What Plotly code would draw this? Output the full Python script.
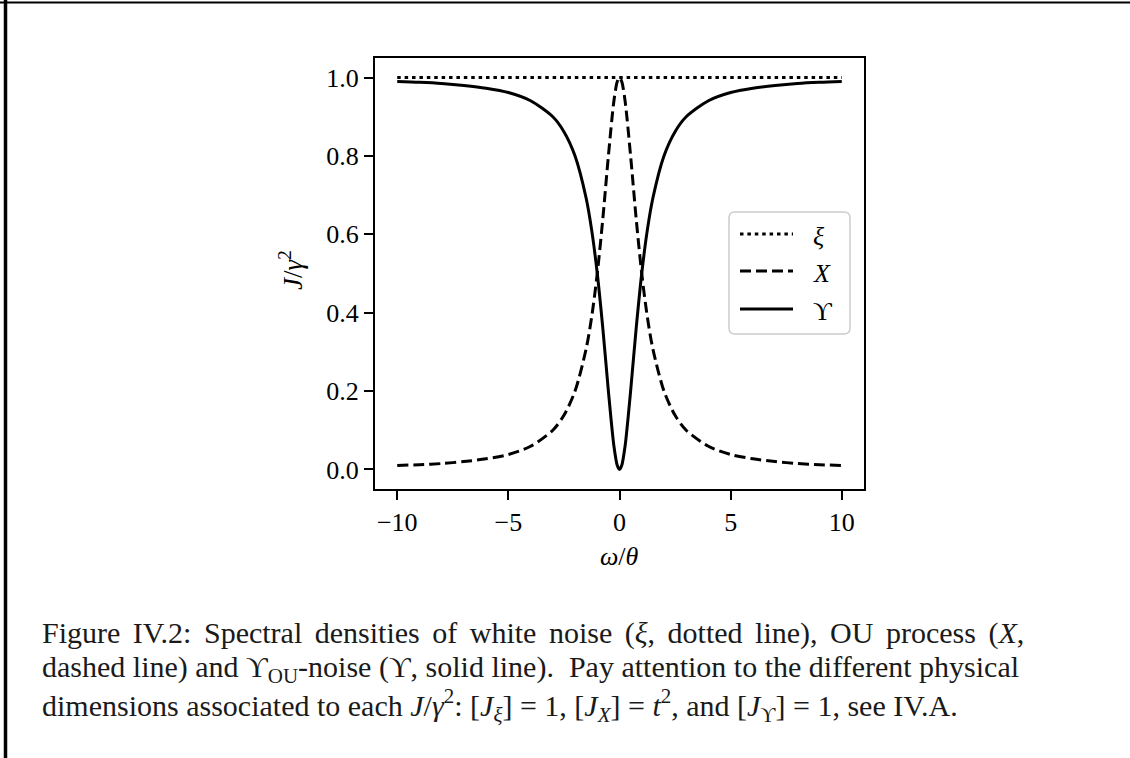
import plotly.graph_objects as go

# Frequency grid (omega / theta) and spectral densities J / gamma^2
omega = [-10, -9, -8, -7, -6, -5, -4, -3, -2.5, -2, -1.5, -1.25, -1, -0.75, -0.5, -0.25, -0.1, 0,
         0.1, 0.25, 0.5, 0.75, 1, 1.25, 1.5, 2, 2.5, 3, 4, 5, 6, 7, 8, 9, 10]
j_xi = [1.0] * len(omega)
j_x = [0.010, 0.012, 0.015, 0.020, 0.027, 0.038, 0.059, 0.100, 0.138, 0.200, 0.308, 0.390, 0.500,
       0.640, 0.800, 0.941, 0.990, 1.000,
       0.990, 0.941, 0.800, 0.640, 0.500, 0.390, 0.308, 0.200, 0.138, 0.100, 0.059, 0.038, 0.027,
       0.020, 0.015, 0.012, 0.010]
j_ups = [0.990, 0.988, 0.985, 0.980, 0.973, 0.962, 0.941, 0.900, 0.862, 0.800, 0.692, 0.610, 0.500,
         0.360, 0.200, 0.059, 0.010, 0.000,
         0.010, 0.059, 0.200, 0.360, 0.500, 0.610, 0.692, 0.800, 0.862, 0.900, 0.941, 0.962, 0.973,
         0.980, 0.985, 0.988, 0.990]

x_ticks = [-10, -5, 0, 5, 10]
y_ticks = [0.0, 0.2, 0.4, 0.6, 0.8, 1.0]

legend_labels = ["<i>ξ</i>", "<i>X</i>", "ϒ"]
caption_lines = [
    "Figure IV.2: Spectral densities of white noise (<i>ξ</i>, dotted line), OU process (<i>X</i>,",
    "dashed line) and ϒ<sub>OU</sub>-noise (ϒ, solid line).  Pay attention to the different physical",
    "dimensions associated to each <i>J</i>/<i>γ</i><sup>2</sup>: [<i>J</i><sub><i>ξ</i></sub>] = 1, "
    "[<i>J</i><sub><i>X</i></sub>] = <i>t</i><sup>2</sup>, and [<i>J</i><sub>ϒ</sub>] = 1, see IV.A.",
]
# extra inter-word spacing per caption line (justified paragraph)
caption_pad = ["\u200a\u200a", "", ""]

W, H = 1130, 758
L, R, T, B = 375, 864, 58, 489   # plot area in pixels


def px(xp):
    return (xp - L) / (R - L)


def py(yp):
    return (B - yp) / (B - T)


AX_FONT = dict(family="Liberation Serif", size=26, color="black")
CAP_FONT = dict(family="Liberation Serif", size=30, color="#1a1a1a")
LW = 3
DOT = "3.5px,3.9px"
DASH = "11px,5px"

fig = go.Figure()
fig.add_trace(go.Scatter(x=omega, y=j_xi, mode="lines", line=dict(color="black", width=LW, dash=DOT),
                         name="ξ", showlegend=False))
fig.add_trace(go.Scatter(x=omega, y=j_x, mode="lines", line=dict(color="black", width=LW, dash=DASH,
                                                                   shape="spline", smoothing=0.8),
                         name="X", showlegend=False))
fig.add_trace(go.Scatter(x=omega, y=j_ups, mode="lines", line=dict(color="black", width=LW,
                                                                     shape="spline", smoothing=0.8),
                         name="ϒ", showlegend=False))

axis_common = dict(showline=True, linecolor="black", linewidth=2, mirror=True, ticks="outside",
                   ticklen=9, tickwidth=2, tickcolor="black", showgrid=False, zeroline=False,
                   tickfont=AX_FONT)
fig.update_xaxes(range=[-11, 11], tickvals=x_ticks, **axis_common)
fig.update_yaxes(range=[-0.05, 1.05], tickvals=y_ticks, tickformat=".1f", **axis_common)

shapes = []
# page frame: thin rule at top, heavy rule at left
shapes.append(dict(type="line", xref="paper", yref="paper", x0=px(0), x1=px(W), y0=py(2.5), y1=py(2.5),
                   line=dict(color="black", width=2)))
shapes.append(dict(type="line", xref="paper", yref="paper", x0=px(5.5), x1=px(5.5), y0=py(0), y1=py(H),
                   line=dict(color="black", width=3.5)))

# legend box with rounded corners
bx0, by0, bx1, by1, rr = 729, 212, 850, 334, 6
path = (f"M {px(bx0 + rr)},{py(by0)} L {px(bx1 - rr)},{py(by0)} "
        f"Q {px(bx1)},{py(by0)} {px(bx1)},{py(by0 + rr)} L {px(bx1)},{py(by1 - rr)} "
        f"Q {px(bx1)},{py(by1)} {px(bx1 - rr)},{py(by1)} L {px(bx0 + rr)},{py(by1)} "
        f"Q {px(bx0)},{py(by1)} {px(bx0)},{py(by1 - rr)} L {px(bx0)},{py(by0 + rr)} "
        f"Q {px(bx0)},{py(by0)} {px(bx0 + rr)},{py(by0)} Z")
shapes.append(dict(type="path", xref="paper", yref="paper", path=path,
                   line=dict(color="#cccccc", width=1.5), fillcolor="rgba(255,255,255,0.8)"))

row_y = [234, 271, 309]
dashes = [DOT, DASH, "solid"]
annotations = []
for yy, dsh, lab in zip(row_y, dashes, legend_labels):
    shapes.append(dict(type="line", xref="paper", yref="paper", x0=px(740), x1=px(793), y0=py(yy), y1=py(yy),
                       line=dict(color="black", width=LW, dash=dsh)))
    annotations.append(dict(xref="paper", yref="paper", x=px(811), y=py(yy + 2), text=lab, showarrow=False,
                            xanchor="left", yanchor="middle", font=AX_FONT))

# axis titles
annotations.append(dict(xref="paper", yref="paper", x=px(619), y=py(556), text="<i>ω</i>/<i>θ</i>",
                        showarrow=False, xanchor="center", yanchor="middle", font=AX_FONT))
annotations.append(dict(xref="paper", yref="paper", x=px(291), y=py(270),
                        text="<i>J</i>/<i>γ</i><sup>2</sup>", textangle=-90,
                        showarrow=False, xanchor="center", yanchor="middle",
                        font=dict(AX_FONT, size=27)))

# caption
for i, (line, pad) in enumerate(zip(caption_lines, caption_pad)):
    text = line.replace(" ", " " + pad) if pad else line
    annotations.append(dict(xref="paper", yref="paper", x=px(40), y=py(633 + 36 * i), text=text,
                            showarrow=False, xanchor="left", yanchor="middle", font=CAP_FONT))

fig.update_layout(width=W, height=H, margin=dict(l=L, r=W - R, t=T, b=H - B, pad=0),
                  paper_bgcolor="white", plot_bgcolor="white", showlegend=False,
                  shapes=shapes, annotations=annotations)

fig.write_html("out.html")
